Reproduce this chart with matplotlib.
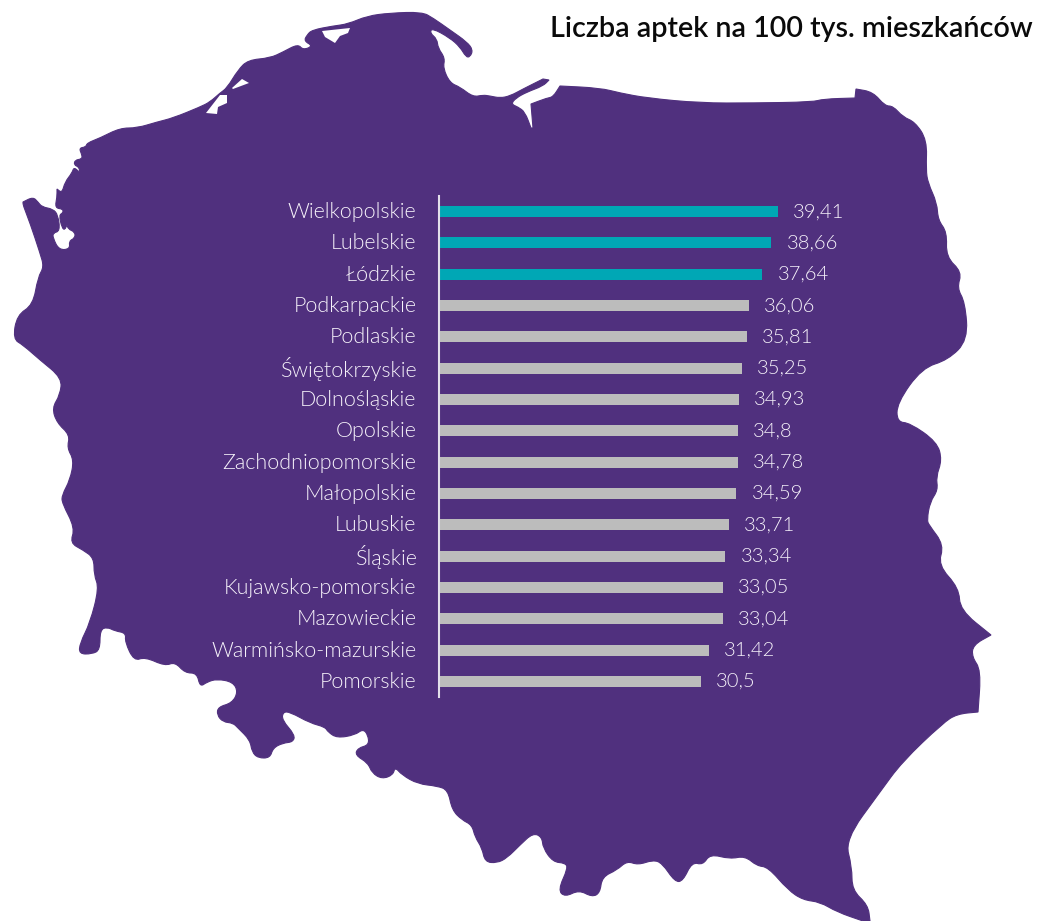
import matplotlib.pyplot as plt
from matplotlib.patches import PathPatch, Polygon
from matplotlib.path import Path
from matplotlib.transforms import ScaledTranslation

plt.rcParams['font.family'] = ['Lato', 'DejaVu Sans']

TITLE = "Liczba aptek na 100 tys. mieszkańców"

REGIONS = [
    "Wielkopolskie", "Lubelskie", "Łódzkie", "Podkarpackie", "Podlaskie",
    "Świętokrzyskie", "Dolnośląskie", "Opolskie", "Zachodniopomorskie",
    "Małopolskie", "Lubuskie", "Śląskie", "Kujawsko-pomorskie", "Mazowieckie",
    "Warmińsko-mazurskie", "Pomorskie",
]
PHARMACIES = [
    39.41, 38.66, 37.64, 36.06, 35.81, 35.25, 34.93, 34.8, 34.78, 34.59,
    33.71, 33.34, 33.05, 33.04, 31.42, 30.5,
]
HIGHLIGHTED = 3

PURPLE = "#50307e"
TEAL = "#00a7b5"
GREY = "#bcbcbc"
TEXT = "#f6f2fa"

# map outline in image pixels, clockwise from the west tip
# a point given twice stays a sharp corner, the others get rounded
MAP_OUTLINE = [
    (23, 202), (23, 202), (33, 197), (38, 202), (42, 207), (53, 209), (58, 215),
    (60, 231), (53, 233), (53, 238), (59, 250), (70, 249), (69, 241), (75, 238),
    (75, 232), (68, 229), (67, 224), (65, 230), (62, 228), (59, 215), (63, 213),
    (63, 209), (55, 208), (57, 197), (57, 189), (57, 189), (62, 193), (65, 182),
    (72, 173), (74, 167), (80, 173), (79, 167), (74, 165), (75, 160), (82, 159),
    (82, 155), (79, 148), (86, 147), (87, 143), (100, 138), (120, 128), (137, 128),
    (157, 122), (173, 118), (200, 107), (210, 102), (220, 93), (227, 88), (238, 70),
    (248, 60), (270, 58), (283, 52), (298, 44), (303, 50), (313, 46), (304, 41),
    (307, 35), (312, 30), (333, 26), (348, 24), (367, 16), (390, 13), (422, 12),
    (433, 18), (450, 30), (467, 42), (473, 50), (470, 57), (466, 57), (460, 47),
    (450, 38), (432, 28), (430, 33), (437, 39), (438, 48), (445, 58), (443, 68),
    (450, 83), (460, 87), (473, 97), (483, 95), (490, 96), (500, 98), (510, 96),
    (523, 89), (543, 79), (543, 79), (549, 80), (549, 80), (543, 86), (527, 92),
    (516, 98), (511, 104), (518, 107), (525, 112), (531, 128), (531, 128),
    (533, 128), (533, 128), (531, 104), (531, 104), (547, 98), (553, 97), (560, 86),
    (560, 86), (600, 88), (620, 93), (647, 98), (700, 103), (753, 103),
    (813, 102), (823, 99), (855, 98), (855, 98), (856, 89), (856, 89), (873, 92),
    (885, 106), (893, 106), (903, 117), (915, 122), (927, 140), (926, 170),
    (928, 183), (937, 203), (938, 220), (947, 232), (946, 257), (962, 272),
    (957, 288), (965, 302), (968, 340), (948, 360), (922, 368), (897, 403),
    (897, 422), (910, 423), (937, 442), (942, 460), (936, 477), (938, 490),
    (930, 502), (927, 520), (929, 525), (944, 545), (938, 565), (959, 588),
    (960, 610), (991, 635), (991, 635), (973, 645), (972, 657), (981, 670),
    (978, 712), (978, 712), (957, 714), (943, 723), (902, 762), (880, 792),
    (845, 840), (852, 867), (852, 890), (868, 905), (870, 921), (870, 921),
    (863, 921), (863, 921), (837, 912), (820, 902), (803, 900), (788, 890),
    (768, 867), (757, 866), (745, 856), (730, 859), (710, 854), (703, 865),
    (692, 862), (683, 881), (675, 882), (662, 863), (653, 860), (638, 865),
    (627, 861), (617, 870), (602, 877), (600, 893), (592, 897), (579, 890),
    (565, 897), (558, 890), (568, 868), (565, 863), (553, 862), (543, 848),
    (542, 837), (533, 833), (520, 845), (507, 858), (497, 863), (485, 862),
    (482, 848), (475, 837), (472, 825), (462, 820), (452, 810), (448, 790),
    (437, 786), (418, 784), (402, 775), (395, 767), (393, 775), (382, 779),
    (372, 773), (368, 763), (355, 755), (358, 748), (369, 745), (368, 735),
    (363, 729), (355, 735), (337, 738), (328, 732), (325, 727), (310, 723),
    (290, 712), (283, 712), (282, 720), (295, 735), (293, 742), (283, 743),
    (273, 748), (270, 758), (258, 758), (252, 752), (250, 740), (238, 728),
    (233, 723), (223, 722), (217, 715), (218, 707), (232, 703), (238, 692),
    (233, 682), (217, 679), (207, 682), (200, 687), (197, 673), (185, 673),
    (175, 662), (165, 666), (145, 657), (134, 661), (125, 642), (126, 633),
    (115, 631), (107, 627), (100, 630), (100, 650), (92, 654), (79, 654),
    (80, 643), (90, 623), (99, 588), (94, 575), (94, 558), (83, 550), (70, 543),
    (75, 528), (62, 503), (62, 495), (70, 480), (74, 460), (67, 448), (70, 435),
    (57, 423), (52, 408), (60, 395), (62, 378), (40, 360), (23, 345), (13, 339),
    (17, 315), (33, 305), (38, 277), (44, 267), (40, 253), (30, 223), (23, 205),
]
MAP_HOLES = [
    [(322, 31), (350, 28), (348, 33), (340, 36), (335, 43), (325, 37)],
    [(232, 88), (242, 79), (249, 83), (233, 89)],
    [(206, 113), (220, 95), (227, 95), (227, 103), (218, 107), (217, 114)],
]


def rounded_path(points):
    # quadratic pieces between edge midpoints, each point is the control point
    mid = lambda a, b: ((a[0] + b[0]) / 2, (a[1] + b[1]) / 2)
    verts = [mid(points[-1], points[0])]
    codes = [Path.MOVETO]
    for i, point in enumerate(points):
        next_point = points[(i + 1) % len(points)]
        verts += [point, mid(point, next_point)]
        codes += [Path.CURVE3, Path.CURVE3]
    return Path(verts, codes)


def draw_map(fig):
    ax = fig.add_axes([0, 0, 1, 1])
    ax.set_xlim(0, 1039)
    ax.set_ylim(921, 0)
    ax.axis("off")
    ax.add_patch(PathPatch(rounded_path(MAP_OUTLINE), facecolor=PURPLE, edgecolor=PURPLE,
                           linewidth=0.8))
    for hole in MAP_HOLES:
        ax.add_patch(Polygon(hole, closed=True, facecolor="white", edgecolor="none"))
    ax.text(1033, 29, TITLE, ha="right", va="center", fontsize=20.7, fontweight=600,
            color="#0a0a0a")


def draw_bars(fig):
    # 8.6 px per unit, axis line at x=439, 16 rows between y=196 and y=697
    ax = fig.add_axes([438.7 / 1039, 1 - 697 / 921, 387 / 1039, 501 / 921])
    ax.patch.set_alpha(0)
    colors = [TEAL if i < HIGHLIGHTED else GREY for i in range(len(REGIONS))]
    ax.barh(range(len(REGIONS)), PHARMACIES, height=0.35, color=colors)
    ax.set_xlim(0, 45)
    ax.set_ylim(len(REGIONS) - 0.5, -0.5)
    ax.set_xticks([])
    ax.set_yticks(range(len(REGIONS)), REGIONS, fontsize=15.5, color=TEXT, fontweight=300)
    ax.tick_params(axis="y", length=0, pad=16)
    nudge = ScaledTranslation(0, 1.5 / 100, fig.dpi_scale_trans)  # labels sit a bit above the bars
    for label in ax.get_yticklabels():
        label.set_transform(label.get_transform() + nudge)
    for side in ["top", "right", "bottom"]:
        ax.spines[side].set_visible(False)
    ax.spines["left"].set_color("#e3dfea")
    ax.spines["left"].set_linewidth(1.5)
    for i, value in enumerate(PHARMACIES):
        ax.annotate(str(value).replace(".", ","), (value, i), xytext=(11, 0),
                    textcoords="offset points", va="center", fontsize=14.5, color=TEXT,
                    fontweight=300)


def main():
    fig = plt.figure(figsize=(10.39, 9.21), dpi=100)
    draw_map(fig)
    draw_bars(fig)
    fig.savefig("out.png", dpi=100)


if __name__ == "__main__":
    main()
